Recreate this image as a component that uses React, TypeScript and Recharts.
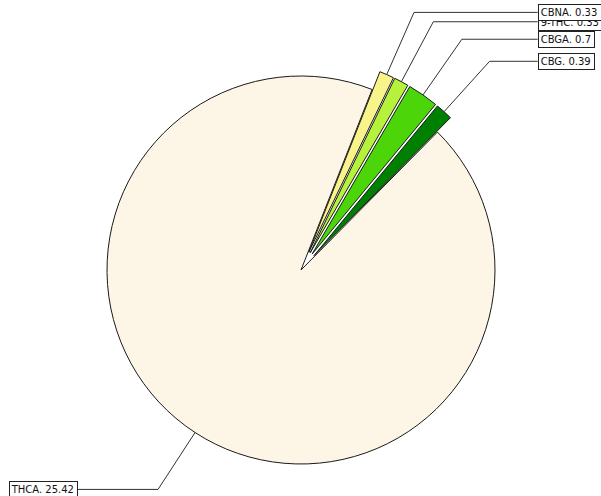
import React from 'react';
import { PieChart, Pie, Cell } from 'recharts';

// slices in drawing order, counter-clockwise from THCA
const names = ['THCA', 'CBG', 'CBGA', '9-THC', 'CBNA'];
const values = [25.42, 0.39, 0.7, 0.33, 0.33];
const explode = [0, 0.1, 0.1, 0.1, 0.1];
const colors = ['#FDF5E6', '#008000', '#4CD60A', '#B6F23C', '#F8F48A'];

const W = 601;
const H = 496;
const CX = 301;
const CY = 270;
const R = 194;
const START = 68.5;
const RAD = Math.PI / 180;
const EDGE = '#1a1a1a';
const FONT = 10;

const data = names.map((name, i) => ({ name, value: values[i] }));
const total = values.reduce((a, b) => a + b, 0);

const midAngles = values.map((v, i) => {
  const before = values.slice(0, i).reduce((a, b) => a + b, 0);
  return START + ((before + v / 2) / total) * 360;
});

let ctx: CanvasRenderingContext2D | null = null;
const textWidth = (s: string) => {
  if (!ctx) ctx = document.createElement('canvas').getContext('2d');
  if (!ctx) return s.length * 5.6;
  ctx.font = `${FONT}px "DejaVu Sans"`;
  return ctx.measureText(s).width;
};

const renderLabel = (slice: number) => (props: any) => {
  if (props.index !== slice) return null;
  const { cx, cy, midAngle, outerRadius, name, value } = props;
  const cos = Math.cos(-midAngle * RAD);
  const sin = Math.sin(-midAngle * RAD);
  const x0 = cx + outerRadius * cos;
  const y0 = cy + outerRadius * sin;
  const x1 = cx + 1.35 * outerRadius * cos;
  const y1 = cy + 1.35 * outerRadius * sin;
  const label = `${name}. ${value}`;
  const tw = textWidth(label);
  const boxW = tw + 6;
  const right = cos >= 0;
  const bx = right ? CX + 1.22 * R : CX - 1.155 * R - boxW;
  const edgeX = right ? bx : bx + boxW;
  return (
    <g>
      <polyline
        points={`${x0},${y0} ${x1},${y1} ${edgeX},${y1}`}
        fill="none"
        stroke="#333"
        strokeWidth={1}
      />
      <rect
        x={Math.round(bx) + 0.5}
        y={Math.round(y1 - 8) + 0.5}
        width={Math.round(boxW)}
        height={16}
        fill="#fff"
        stroke="#222"
        strokeWidth={1}
      />
      <text
        x={bx + 3}
        y={y1 + 0.5}
        dominantBaseline="central"
        fontFamily="DejaVu Sans"
        fontSize={FONT}
        fill="#111"
      >
        {label}
      </text>
    </g>
  );
};

const App = () => {
  return (
    <div style={{ position: 'absolute', left: 0, top: 0, background: '#fff' }}>
      <PieChart width={W} height={H} margin={{ top: 0, right: 0, bottom: 0, left: 0 }}>
        {names.map((n, slice) => {
          const d = explode[slice] * R;
          const cx = CX + d * Math.cos(midAngles[slice] * RAD);
          const cy = CY - d * Math.sin(midAngles[slice] * RAD);
          return (
            <Pie
              key={n}
              data={data}
              dataKey="value"
              nameKey="name"
              cx={cx}
              cy={cy}
              innerRadius={0}
              outerRadius={R}
              startAngle={START}
              endAngle={START + 360}
              label={renderLabel(slice)}
              labelLine={false}
              isAnimationActive={false}
            >
              {data.map((_, i) => (
                <Cell
                  key={i}
                  fill={i === slice ? colors[i] : 'none'}
                  stroke={i === slice ? EDGE : 'none'}
                  strokeWidth={1}
                />
              ))}
            </Pie>
          );
        })}
      </PieChart>
    </div>
  );
};

export default App;
